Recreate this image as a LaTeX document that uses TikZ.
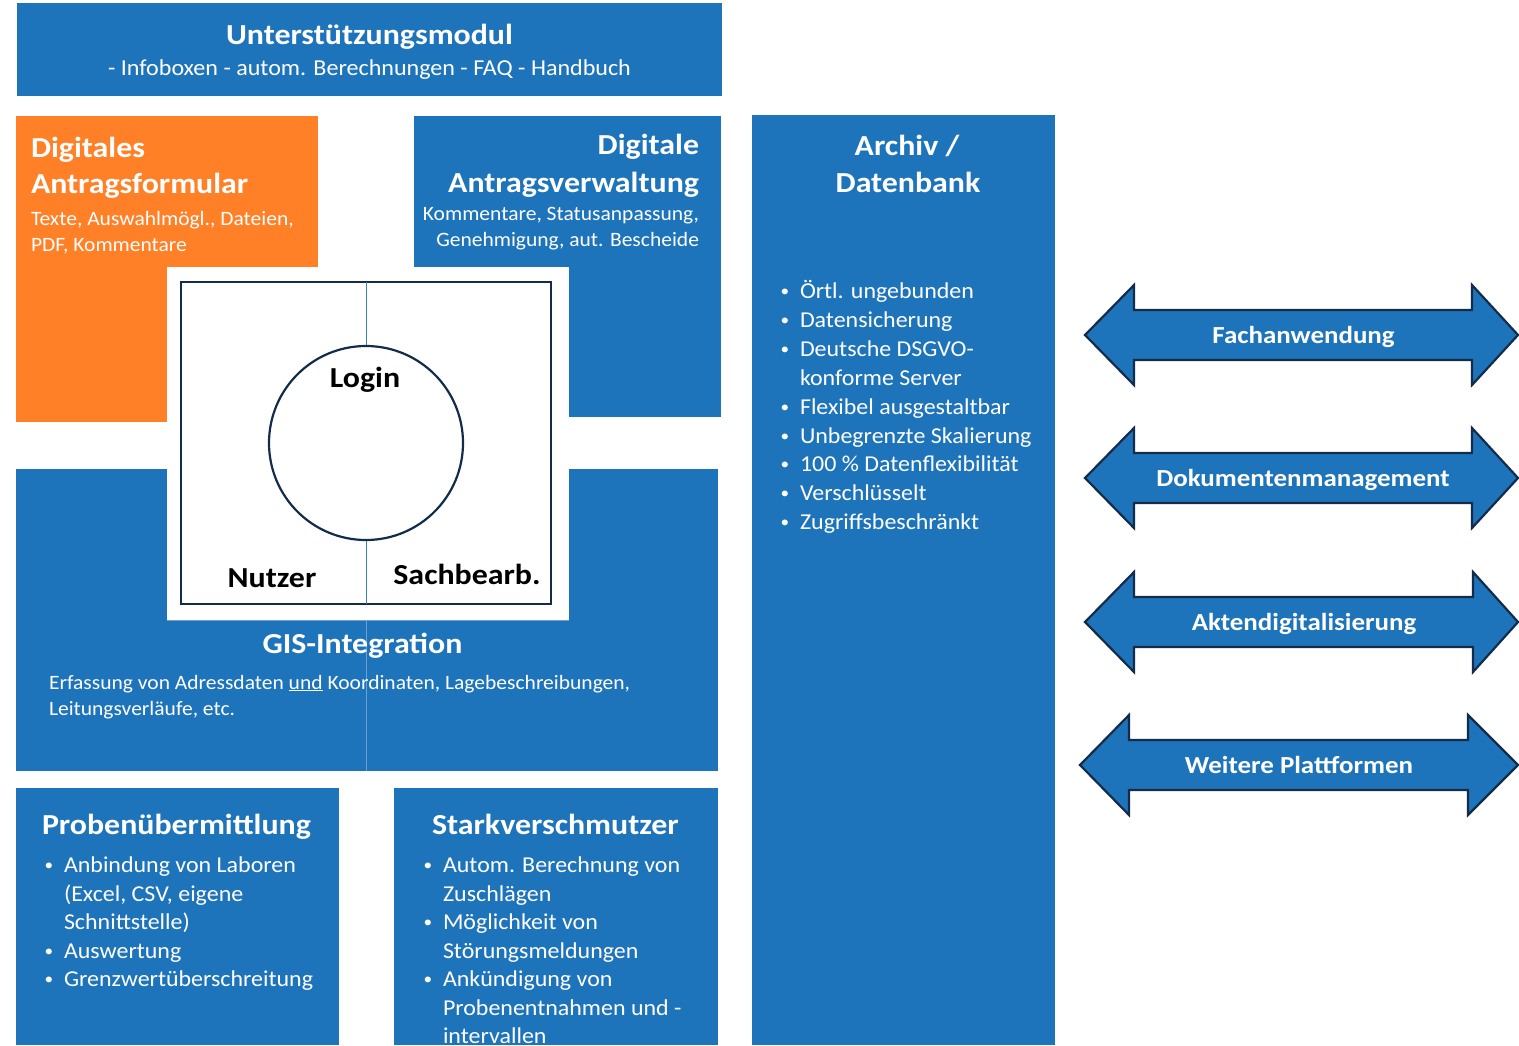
\documentclass[tikz,border=0pt]{standalone}
\usepackage{graphicx}
\usepackage{fontspec}
\setmainfont{Carlito}[FakeStretch=1.055, BoldFeatures={FakeStretch=1.1}]
\definecolor{boxblue}{RGB}{30,116,187}
\definecolor{boxorange}{RGB}{255,128,38}
\definecolor{navy}{RGB}{18,44,74}
\definecolor{thinblue}{RGB}{60,130,195}
\definecolor{paleblue}{RGB}{110,160,210}

\tikzset{
  panel/.style={fill=boxblue, draw=none},
  orangepanel/.style={fill=boxorange, draw=none},
  txt/.style={text=white, inner sep=0pt, outer sep=0pt},
  headtxt/.style={txt, font=\fontsize{29bp}{36bp}\selectfont\bfseries},
  bodytxt/.style={txt, font=\fontsize{20.4bp}{26bp}\selectfont},
  itemtxt/.style={txt, font=\fontsize{22.7bp}{29bp}\selectfont},
  roletxt/.style={inner sep=0pt, outer sep=0pt, text=black, font=\fontsize{29bp}{34bp}\selectfont\bfseries},
  arrowtxt/.style={txt, font=\fontsize{24.5bp}{28bp}\selectfont\bfseries},
  twoway/.style={fill=boxblue, draw=navy, line width=2.2bp, line join=miter},
}

% small list bullet
\newcommand\smallbullet{\raisebox{1.2bp}{\scalebox{0.72}{\textbullet}}}

% one bullet line: name, bullet x, text x, baseline y, text
\newcommand\listline[5]{%
  \node[itemtxt, anchor=base] (#1b) at (#2,#4) {\smallbullet};
  \node[itemtxt, anchor=base west] (#1) at (#3,#4) {#5};}

% double-headed block arrow: name, left tip x, left head back x, right head back x, right tip x, centre y, label, label x
\newcommand\blockarrow[8]{%
  \draw[twoway] (#2,#6) -- (#3,#6-50) -- (#3,#6-25) -- (#4,#6-25) -- (#4,#6-50)
    -- (#5,#6) -- (#4,#6+50) -- (#4,#6+25) -- (#3,#6+25) -- (#3,#6+50) -- cycle;
  \node[arrowtxt, anchor=base] (#1) at (#8,#6+8.5) {#7};}

\begin{document}
\begin{tikzpicture}[x=1bp, y=-1bp]
\useasboundingbox (0,0) rectangle (1519,1045);
\fill[white] (0,0) rectangle (1519,1045);

% ---------- support module ----------
\fill[panel] (17,3) rectangle (722,96);
\node[txt, anchor=base, font=\fontsize{29bp}{34bp}\selectfont\bfseries] (um) at (369.5,44) {Unterstützungsmodul};
\node[txt, anchor=base, font=\fontsize{22.8bp}{26bp}\selectfont] (umsub) at (369.5,75) {- Infoboxen - autom. Berechnungen - FAQ - Handbuch};

% ---------- application form ----------
\fill[orangepanel] (16,116) rectangle (318,422);
\node[headtxt, anchor=base west] (af1) at (31,157) {Digitales};
\node[headtxt, anchor=base west] (af2) at (31,193) {Antragsformular};
\node[bodytxt, anchor=base west] (af3) at (31,225) {Texte, Auswahlmögl., Dateien,};
\node[bodytxt, anchor=base west] (af4) at (31,251) {PDF, Kommentare};

% ---------- application management ----------
\fill[panel] (414,116) rectangle (721,417);
\node[headtxt, anchor=base east] (av1) at (699,154) {Digitale};
\node[headtxt, anchor=base east] (av2) at (699,192) {Antragsverwaltung};
\node[bodytxt, anchor=base east] (av3) at (699,220) {Kommentare, Statusanpassung,};
\node[bodytxt, anchor=base east] (av4) at (699,246) {Genehmigung, aut. Bescheide};

% ---------- GIS integration ----------
\fill[panel] (16,469) rectangle (718,771);
\draw[paleblue, line width=0.8bp] (366,620) -- (366,771);
\node[headtxt, anchor=base] (gis) at (362.5,653) {GIS-Integration};
\node[bodytxt, anchor=base west] (gis1) at (49,689) {Erfassung von Adressdaten \underline{und} Koordinaten, Lagebeschreibungen,};
\node[bodytxt, anchor=base west] (gis2) at (49,715) {Leitungsverläufe, etc.};

% ---------- login centre ----------
\fill[white] (167,267) rectangle (569,620);
\draw[paleblue, line width=0.8bp] (167,620) -- (569,620);
\draw[navy, line width=2.2bp] (181,282) rectangle (551,604);
\node[circle, draw=navy, line width=2.2bp, minimum size=194bp, inner sep=0pt] (ring) at (366,443) {};
\coordinate (topedge) at (366,282);
\coordinate (botedge) at (366,604);
\draw[thinblue, line width=1bp] (topedge) -- (ring.north);
\draw[thinblue, line width=1bp] (ring.south) -- (botedge);
\node[roletxt, anchor=base] (login) at (365,387) {Login};
\node[roletxt, anchor=base] (nutzer) at (272,587) {Nutzer};
\node[roletxt, anchor=base] (sach) at (467,584) {Sachbearb.};

% ---------- sample transfer ----------
\fill[panel] (16,788) rectangle (339,1045);
\node[headtxt, anchor=base west] (pu) at (42,834) {Probenübermittlung};
\listline{pu1}{49}{64}{872}{Anbindung von Laboren}
\node[itemtxt, anchor=base west] (pu1b2) at (64,901) {(Excel, CSV, eigene};
\node[itemtxt, anchor=base west] (pu1b3) at (64,929) {Schnittstelle)};
\listline{pu2}{49}{64}{958}{Auswertung}
\listline{pu3}{49}{64}{986}{Grenzwertüberschreitung}

% ---------- heavy polluters ----------
\fill[panel] (394,788) rectangle (718,1045);
\node[headtxt, anchor=base west] (sv) at (432,834) {Starkverschmutzer};
\listline{sv1}{428}{443}{872}{Autom. Berechnung von}
\node[itemtxt, anchor=base west] (sv1c) at (443,901) {Zuschlägen};
\listline{sv2}{428}{443}{929}{Möglichkeit von}
\node[itemtxt, anchor=base west] (sv2c) at (443,958) {Störungsmeldungen};
\listline{sv3}{428}{443}{986}{Ankündigung von}
\node[itemtxt, anchor=base west] (sv3c) at (443,1015) {Probenentnahmen und -};
\node[itemtxt, anchor=base west] (sv3d) at (443,1043) {intervallen};

% ---------- archive / database ----------
\fill[panel] (752,115) rectangle (1055,1045);
\node[headtxt, anchor=base] (ar1) at (907,155) {Archiv /};
\node[headtxt, anchor=base] (ar2) at (908,192) {Datenbank};
\listline{ab1}{785}{800}{298}{Örtl. ungebunden}
\listline{ab2}{785}{800}{327}{Datensicherung}
\listline{ab3}{785}{800}{356}{Deutsche DSGVO-}
\node[itemtxt, anchor=base west] (ab3c) at (800,385) {konforme Server};
\listline{ab4}{785}{800}{414}{Flexibel ausgestaltbar}
\listline{ab5}{785}{800}{443}{Unbegrenzte Skalierung}
\listline{ab6}{785}{800}{471}{100 \% Datenflexibilität}
\listline{ab7}{785}{800}{500}{Verschlüsselt}
\listline{ab8}{785}{800}{529}{Zugriffsbeschränkt}

% ---------- interfaces ----------
\blockarrow{fa}{1085}{1134}{1472}{1518}{335}{Fachanwendung}{1303.5}
\blockarrow{dm}{1085}{1134}{1472}{1518}{478}{Dokumentenmanagement}{1303}
\blockarrow{ad}{1085}{1134}{1473}{1518}{622}{Aktendigitalisierung}{1304}
\blockarrow{wp}{1080}{1129}{1468}{1518}{765}{Weitere Plattformen}{1299}
\end{tikzpicture}
\end{document}
